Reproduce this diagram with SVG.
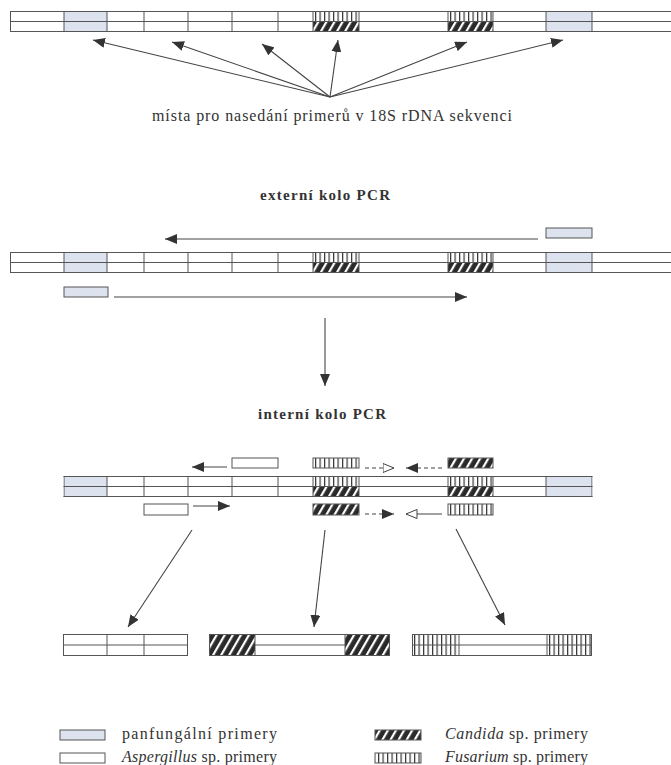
<svg xmlns="http://www.w3.org/2000/svg" width="671" height="765" viewBox="0 0 671 765">
<style>
.ln{stroke:#555;stroke-width:1;fill:none}
.bx{stroke:#555;stroke-width:1}
.con{stroke:#444;stroke-width:1.1;fill:none}
.dash{stroke-dasharray:4 3}
.t{font-family:"Liberation Serif","Times New Roman",serif;fill:#333;font-size:16px}
.b{font-weight:bold;font-size:15px}
.i{font-style:italic}
</style>
<defs>
<pattern id="hatch" width="7" height="7" patternUnits="userSpaceOnUse" patternTransform="rotate(30)">
<rect width="7" height="7" fill="#2a2a2a"/><rect x="0" y="0" width="2.2" height="7" fill="#fff"/>
</pattern>
<pattern id="vlines" width="4.5" height="10" patternUnits="userSpaceOnUse">
<rect width="4.5" height="10" fill="#fff"/><rect x="0" y="0" width="1.2" height="10" fill="#333"/>
</pattern>
<marker id="ah" viewBox="0 0 12 10" refX="12" refY="5" markerWidth="12" markerHeight="10" markerUnits="userSpaceOnUse" orient="auto">
<path d="M0,0 L12,5 L0,10 z" fill="#333"/>
</marker>
<marker id="ao" viewBox="0 0 12 10" refX="11.5" refY="5" markerWidth="12" markerHeight="10" markerUnits="userSpaceOnUse" orient="auto">
<path d="M0.5,0.5 L11.5,5 L0.5,9.5 z" fill="#fff" stroke="#444" stroke-width="1"/>
</marker>
<g id="strip">
<rect x="10" y="0" width="662" height="21" fill="#fff"/>
<rect x="64" y="0" width="43" height="21" fill="#dce3ee"/>
<rect x="546" y="0" width="46" height="21" fill="#dce3ee"/>
<rect x="313" y="0" width="46" height="10.5" fill="url(#vlines)"/>
<rect x="313" y="10.5" width="46" height="10.5" fill="url(#hatch)"/>
<rect x="448" y="0" width="45" height="10.5" fill="url(#vlines)"/>
<rect x="448" y="10.5" width="45" height="10.5" fill="url(#hatch)"/>
<path class="ln" d="M10,0.5H672 M10,20.5H672 M10,10.5H672 M10.5,0V21 M64,0V21 M107,0V21 M144,0V21 M188,0V21 M232,0V21 M278,0V21 M313,0V21 M359,0V21 M448,0V21 M493,0V21 M546,0V21 M592,0V21"/>
</g>
<clipPath id="clipInt"><rect x="63.5" y="470" width="529" height="30"/></clipPath>
</defs>
<rect width="671" height="765" fill="#fff"/>

<g id="strip-top"><use href="#strip" transform="translate(0,11)"/></g>
<g id="label-top"><text class="t" x="152" y="121" textLength="360" lengthAdjust="spacing">místa pro nasedání primerů v 18S rDNA sekvenci</text></g>

<g id="label-external"><text class="t b" x="260" y="200" textLength="130" lengthAdjust="spacing">externí kolo PCR</text></g>
<g id="strip-external"><use href="#strip" transform="translate(0,252)"/></g>
<g id="primer-ext-right"><rect class="bx" x="546" y="228" width="46" height="10" fill="#dce3ee"/></g>
<g id="primer-ext-left"><rect class="bx" x="64" y="287" width="44" height="10" fill="#dce3ee"/></g>

<g id="label-internal"><text class="t b" x="258" y="419" textLength="128" lengthAdjust="spacing">interní kolo PCR</text></g>
<g id="strip-internal" clip-path="url(#clipInt)"><use href="#strip" transform="translate(0,476)"/></g>
<g id="primer-asp-top"><rect class="bx" x="232" y="458" width="46" height="10" fill="#fff"/></g>
<g id="primer-fus-top"><rect class="bx" x="313" y="458" width="46" height="10" fill="url(#vlines)"/></g>
<g id="primer-can-top"><rect class="bx" x="448" y="458" width="45" height="10" fill="url(#hatch)"/></g>
<g id="primer-asp-bot"><rect class="bx" x="144" y="504" width="44" height="11" fill="#fff"/></g>
<g id="primer-can-bot"><rect class="bx" x="313" y="504" width="46" height="11" fill="url(#hatch)"/></g>
<g id="primer-fus-bot"><rect class="bx" x="448" y="504" width="45" height="11" fill="url(#vlines)"/></g>

<g id="product-asp">
<rect x="63" y="634" width="125" height="22" fill="#fff"/>
<path class="ln" d="M63,634.5H188 M63,655.5H188 M63,645H188 M63.5,634V656 M107,634V656 M144,634V656 M187.5,634V656"/>
</g>
<g id="product-can">
<rect x="209" y="634" width="181" height="22" fill="#fff"/>
<rect x="209" y="634" width="46" height="22" fill="url(#hatch)"/>
<rect x="345" y="634" width="45" height="22" fill="url(#hatch)"/>
<path class="ln" d="M209,634.5H390 M209,655.5H390 M255,645H345 M209.5,634V656 M255,634V656 M345,634V656 M389.5,634V656"/>
</g>
<g id="product-fus">
<rect x="412" y="634" width="180" height="22" fill="#fff"/>
<rect x="412" y="634" width="47" height="22" fill="url(#vlines)"/>
<rect x="547" y="634" width="45" height="22" fill="url(#vlines)"/>
<path class="ln" d="M412,634.5H592 M412,655.5H592 M412,645H592 M412.5,634V656 M459,634V656 M547,634V656 M591.5,634V656"/>
</g>

<g id="legend">
<rect class="bx" x="60" y="730" width="45" height="10" fill="#dce3ee"/>
<rect class="bx" x="60" y="753" width="45" height="10" fill="#fff"/>
<rect class="bx" x="375" y="730" width="46" height="10" fill="url(#hatch)"/>
<rect class="bx" x="375" y="753" width="46" height="10" fill="url(#vlines)"/>
<text class="t" x="122" y="739" textLength="155" lengthAdjust="spacing">panfungální primery</text>
<text class="t" x="122" y="762" textLength="155" lengthAdjust="spacing"><tspan class="i">Aspergillus</tspan> sp. primery</text>
<text class="t" x="445" y="739" textLength="143" lengthAdjust="spacing"><tspan class="i">Candida</tspan> sp. primery</text>
<text class="t" x="445" y="762" textLength="143" lengthAdjust="spacing"><tspan class="i">Fusarium</tspan> sp. primery</text>
</g>

<g id="connectors">
<line class="con" x1="330" y1="97" x2="93" y2="40" marker-end="url(#ah)"/>
<line class="con" x1="330" y1="97" x2="172" y2="42" marker-end="url(#ah)"/>
<line class="con" x1="330" y1="97" x2="262" y2="44" marker-end="url(#ah)"/>
<line class="con" x1="330" y1="97" x2="338" y2="40" marker-end="url(#ah)"/>
<line class="con" x1="330" y1="97" x2="467" y2="42" marker-end="url(#ah)"/>
<line class="con" x1="330" y1="97" x2="563" y2="40" marker-end="url(#ah)"/>
<line class="con" x1="538" y1="239" x2="165" y2="239" marker-end="url(#ah)"/>
<line class="con" x1="114" y1="297" x2="467" y2="297" marker-end="url(#ah)"/>
<line class="con" x1="325" y1="318" x2="325" y2="386" marker-end="url(#ah)"/>
<line class="con" x1="227" y1="467" x2="192" y2="467" marker-end="url(#ah)"/>
<line class="con dash" x1="365" y1="468" x2="394" y2="468" marker-end="url(#ao)"/>
<line class="con dash" x1="442" y1="468" x2="406" y2="468" marker-end="url(#ah)"/>
<line class="con" x1="193" y1="506" x2="230" y2="506" marker-end="url(#ah)"/>
<line class="con dash" x1="365" y1="514" x2="394" y2="514" marker-end="url(#ah)"/>
<line class="con" x1="442" y1="514" x2="406" y2="514" marker-end="url(#ao)"/>
<line class="con" x1="192" y1="530" x2="128" y2="627" marker-end="url(#ah)"/>
<line class="con" x1="325" y1="530" x2="314" y2="627" marker-end="url(#ah)"/>
<line class="con" x1="456" y1="529" x2="505" y2="625" marker-end="url(#ah)"/>
</g>
</svg>
